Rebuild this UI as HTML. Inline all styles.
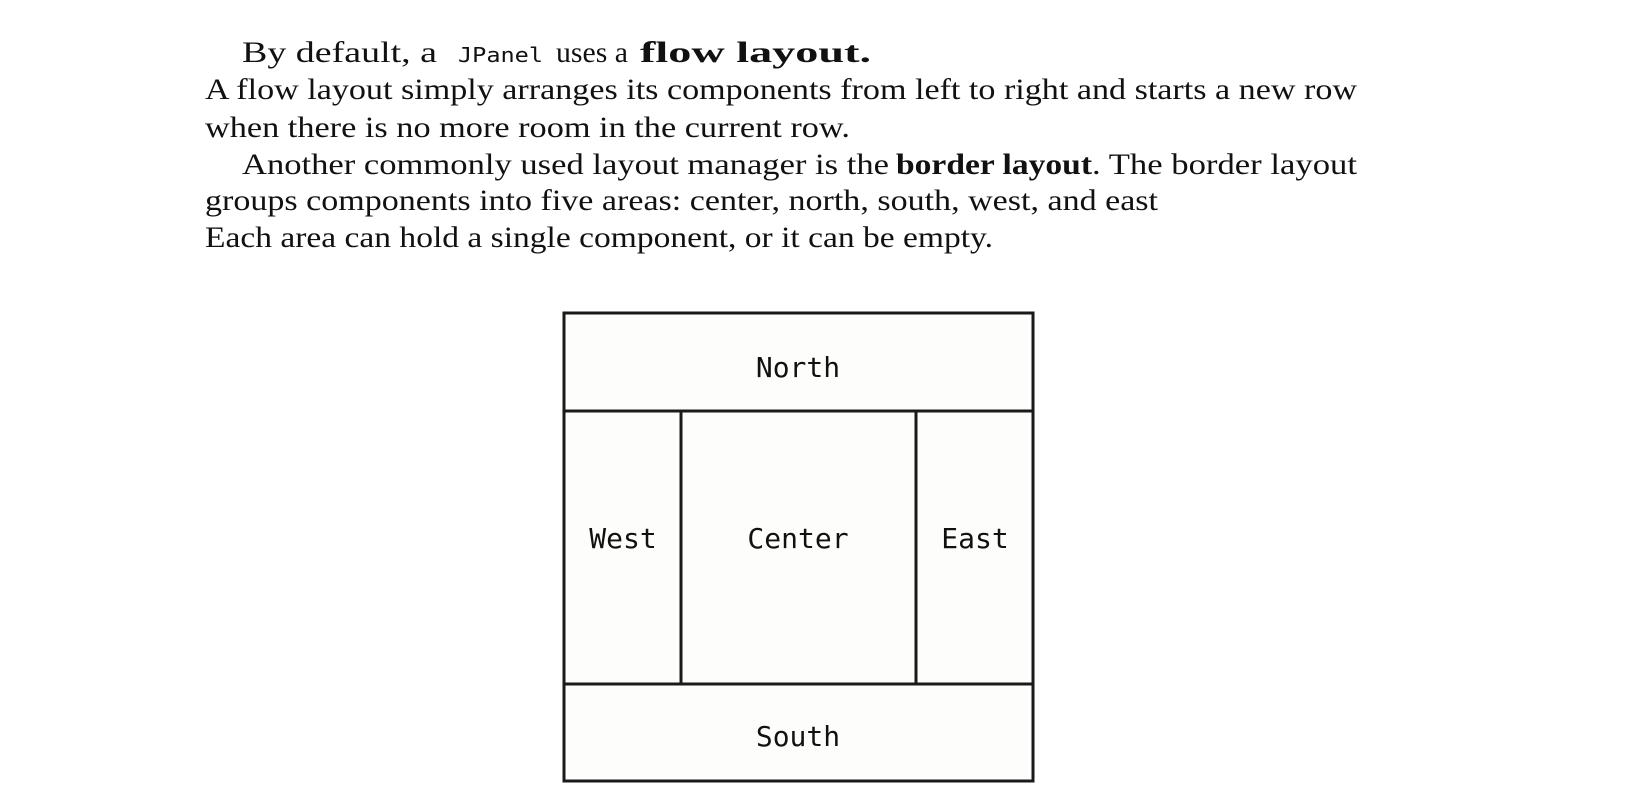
<!DOCTYPE html>
<html><head><meta charset="utf-8"><style>
html,body{margin:0;padding:0;background:#fff;}
svg{display:block;}
.s{font-family:"Liberation Serif",serif;font-size:30px;fill:#111;}
.b{font-weight:bold;}
.m{font-family:"DejaVu Sans Mono","Liberation Mono",monospace;fill:#111;}
</style></head><body>
<svg width="1630" height="805" viewBox="0 0 1630 805" xmlns="http://www.w3.org/2000/svg">
<rect width="1630" height="805" fill="#fff"/>
<text class="s" x="242" y="62" textLength="195" lengthAdjust="spacingAndGlyphs">By default, a</text>
<text class="m" x="458" y="62" font-size="20" textLength="85" lengthAdjust="spacingAndGlyphs">JPanel</text>
<text class="s" x="556" y="62" textLength="72" lengthAdjust="spacingAndGlyphs">uses a</text>
<text class="s b" x="640" y="62" textLength="231" lengthAdjust="spacingAndGlyphs">flow layout.</text>
<text class="s" x="205" y="99" textLength="1152" lengthAdjust="spacingAndGlyphs">A flow layout simply arranges its components from left to right and starts a new row</text>
<text class="s" x="205" y="137" textLength="645" lengthAdjust="spacingAndGlyphs">when there is no more room in the current row.</text>
<text class="s" x="242" y="174" textLength="647" lengthAdjust="spacingAndGlyphs">Another commonly used layout manager is the</text>
<text class="s b" x="896" y="174" textLength="196" lengthAdjust="spacingAndGlyphs">border layout</text>
<text class="s" x="1092" y="174" textLength="265" lengthAdjust="spacingAndGlyphs">. The border layout</text>
<text class="s" x="205" y="210" textLength="953" lengthAdjust="spacingAndGlyphs">groups components into five areas: center, north, south, west, and east</text>
<text class="s" x="205" y="247" textLength="788" lengthAdjust="spacingAndGlyphs">Each area can hold a single component, or it can be empty.</text>

<g stroke="#1a1a1a" stroke-width="3" fill="#fdfdfb">
<rect x="564" y="313" width="469" height="468"/>
<line x1="564" y1="411" x2="1033" y2="411"/>
<line x1="564" y1="684" x2="1033" y2="684"/>
<line x1="681" y1="411" x2="681" y2="684"/>
<line x1="916" y1="411" x2="916" y2="684"/>
</g>
<g class="m" font-size="28" text-anchor="middle">
<text x="798" y="377">North</text>
<text x="623" y="548">West</text>
<text x="798" y="548">Center</text>
<text x="975" y="548">East</text>
<text x="798" y="746">South</text>
</g>
</svg>
</body></html>
